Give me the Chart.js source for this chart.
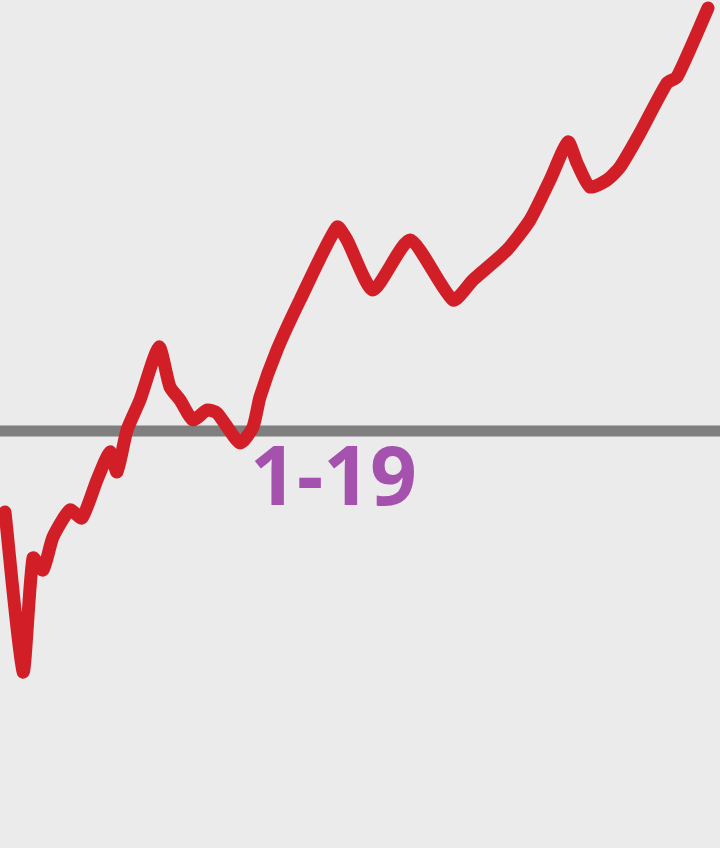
<!DOCTYPE html>
<html>
<head>
<meta charset="utf-8">
<script src="https://cdn.jsdelivr.net/npm/chart.js@4"></script>
<style>
    html, body { margin: 0; padding: 0; background: #ebebeb; }
    #chart_box { width: 720px; height: 848px; }
</style>
</head>
<body>
<div id="chart_box"><canvas id="trend_chart" width="720" height="848"></canvas></div>
<script>
// positions along the time axis and the index level at each one
var day_positions = [5, 23, 33, 43, 53, 70, 82, 97, 110, 117, 127, 140, 159, 170, 180, 193, 207, 217, 240, 253,
    260, 277, 300, 337, 347, 373, 410, 453, 473, 507, 530, 550, 568, 577, 590, 607, 620, 640, 667, 677, 708]
var index_levels = [336, 176, 290, 278, 311, 338, 330, 368, 396, 376, 418, 448, 501, 461, 448, 428, 438, 435, 405, 421,
    451, 498, 548, 621, 608, 558, 608, 548, 568, 598, 628, 668, 706, 685, 661, 668, 681, 715, 765, 771, 840]

// reference level (the grey line) and its label
var base_level = 417
var base_label = "1-19"
var x_range = [0, 720]
var y_range = [0, 848]

function buildPoints(xs, ys) {
    return xs.map((x, i) => {
        return { "x": x, "y": ys[i] }
    })
}

var labelPlugin = {
    "id": "baseLabel",
    afterDatasetsDraw(chart) {
        let ctx = chart.ctx
        ctx.save()
        ctx.font = "bold 82px 'Noto Sans', 'DejaVu Sans', sans-serif"
        ctx.fillStyle = "#a552ae"
        ctx.textBaseline = "alphabetic"
        ctx.textAlign = "left"
        ctx.fillText(base_label, 250, 505)
        ctx.restore()
    }
}

new Chart(document.getElementById("trend_chart").getContext("2d"), {
    "type": "line",
    "data": {
        "datasets": [
            {
                "label": "index",
                "data": buildPoints(day_positions, index_levels),
                "borderColor": "#d21f27",
                "borderWidth": 13,
                "borderCapStyle": "round",
                "borderJoinStyle": "round",
                "tension": 0.2,
                "pointRadius": 0,
                "order": 0
            },
            {
                "label": "base",
                "data": buildPoints(x_range, [base_level, base_level]),
                "borderColor": "#7f7f7f",
                "borderWidth": 11,
                "pointRadius": 0,
                "order": 1
            }
        ]
    },
    "options": {
        "responsive": false,
        "animation": false,
        "layout": { "padding": 0 },
        "plugins": {
            "legend": { "display": false },
            "tooltip": { "enabled": false }
        },
        "scales": {
            "x": { "type": "linear", "display": false, "min": x_range[0], "max": x_range[1] },
            "y": { "type": "linear", "display": false, "min": y_range[0], "max": y_range[1] }
        }
    },
    "plugins": [labelPlugin]
})
</script>
</body>
</html>
